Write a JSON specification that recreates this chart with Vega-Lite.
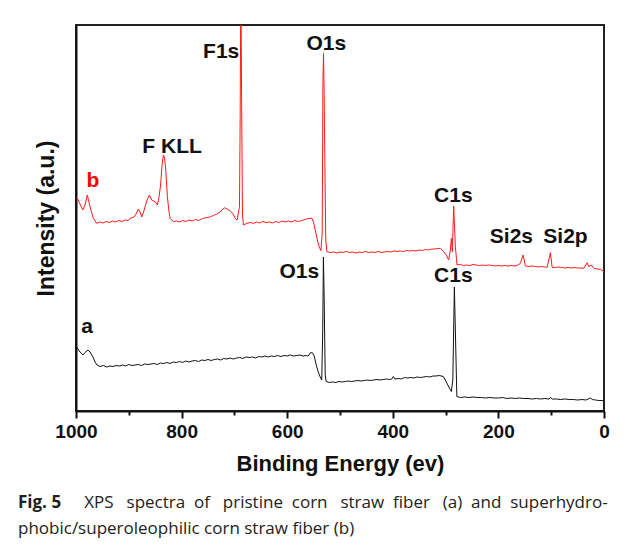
{
  "$schema": "https://vega.github.io/schema/vega-lite/v6.json",
  "width": 528,
  "height": 386,
  "autosize": {"type": "none"},
  "padding": {"left": 76, "top": 25, "right": 25, "bottom": 137},
  "background": "white",
  "config": {"view": {"stroke": "#222222", "strokeWidth": 2}, "font": "Liberation Sans"},
  "title": {
    "text": "Fig. 5",
    "subtitle": ["\u200b\u00a0\u00a0\u00a0\u00a0\u00a0\u00a0\u00a0\u00a0\u00a0\u00a0\u00a0\u00a0\u00a0\u00a0\u00a0XPS \u2002spectra \u00a0of \u2002pristine \u00a0corn \u2002straw \u00a0fiber \u2002(a) \u00a0and \u00a0superhydro-", "phobic/superoleophilic corn straw fiber (b)"],
    "orient": "bottom",
    "anchor": "start",
    "frame": "group",
    "dx": -58,
    "offset": 21,
    "font": "Open Sans",
    "fontSize": 17,
    "fontWeight": "bold",
    "color": "#222222",
    "subtitleFont": "Open Sans",
    "subtitleFontSize": 17,
    "subtitleFontWeight": "normal",
    "subtitleColor": "#222222",
    "subtitleLineHeight": 26,
    "subtitlePadding": -17
  },
  "datasets": {
    "spectra": [
      {"series":"a","be":1000,"intensity":64.3},{"series":"a","be":996.2,"intensity":62},{"series":"a","be":992.4,"intensity":59},{"series":"a","be":986.7,"intensity":56},{"series":"a","be":982.9,"intensity":58.5},{"series":"a","be":977.3,"intensity":61},{"series":"a","be":973.5,"intensity":59},{"series":"a","be":967.8,"intensity":54},{"series":"a","be":964,"intensity":49},{"series":"a","be":960.2,"intensity":46},{"series":"a","be":954.5,"intensity":44.5},{"series":"a","be":948,"intensity":45.5},{"series":"a","be":942,"intensity":44},{"series":"a","be":936,"intensity":45},{"series":"a","be":930,"intensity":44.5},{"series":"a","be":924,"intensity":45.5},{"series":"a","be":918,"intensity":45},{"series":"a","be":912,"intensity":46},{"series":"a","be":906,"intensity":45},{"series":"a","be":900,"intensity":46.5},{"series":"a","be":894,"intensity":45.5},{"series":"a","be":888,"intensity":46},{"series":"a","be":882,"intensity":46.5},{"series":"a","be":876,"intensity":45.5},{"series":"a","be":870,"intensity":47},{"series":"a","be":864,"intensity":46.5},{"series":"a","be":858,"intensity":47},{"series":"a","be":852,"intensity":47.5},{"series":"a","be":846,"intensity":46.5},{"series":"a","be":840,"intensity":48},{"series":"a","be":834,"intensity":47.5},{"series":"a","be":828,"intensity":48.5},{"series":"a","be":822,"intensity":47.5},{"series":"a","be":816,"intensity":49},{"series":"a","be":810,"intensity":48.5},{"series":"a","be":804,"intensity":49.5},{"series":"a","be":798,"intensity":48.5},{"series":"a","be":792,"intensity":50},{"series":"a","be":786,"intensity":49},{"series":"a","be":780,"intensity":50},{"series":"a","be":774,"intensity":50.5},{"series":"a","be":768,"intensity":49.5},{"series":"a","be":762,"intensity":51},{"series":"a","be":756,"intensity":50.5},{"series":"a","be":750,"intensity":51.5},{"series":"a","be":744,"intensity":50.5},{"series":"a","be":738,"intensity":51.5},{"series":"a","be":732,"intensity":52},{"series":"a","be":726,"intensity":51},{"series":"a","be":720,"intensity":52.5},{"series":"a","be":714,"intensity":52},{"series":"a","be":708,"intensity":53},{"series":"a","be":702,"intensity":52},{"series":"a","be":696,"intensity":53},{"series":"a","be":690,"intensity":53.5},{"series":"a","be":684,"intensity":52.5},{"series":"a","be":678,"intensity":54},{"series":"a","be":672,"intensity":53.5},{"series":"a","be":666,"intensity":54},{"series":"a","be":660,"intensity":53},{"series":"a","be":654,"intensity":54.5},{"series":"a","be":648,"intensity":54},{"series":"a","be":642,"intensity":55},{"series":"a","be":636,"intensity":54},{"series":"a","be":630,"intensity":55},{"series":"a","be":624,"intensity":54.5},{"series":"a","be":618,"intensity":55.5},{"series":"a","be":612,"intensity":54.5},{"series":"a","be":606,"intensity":55.5},{"series":"a","be":600,"intensity":55},{"series":"a","be":594,"intensity":56},{"series":"a","be":588,"intensity":55},{"series":"a","be":582,"intensity":55.5},{"series":"a","be":576,"intensity":56},{"series":"a","be":570,"intensity":55},{"series":"a","be":564,"intensity":55.5},{"series":"a","be":560,"intensity":55},{"series":"a","be":556.4,"intensity":58},{"series":"a","be":552.6,"intensity":58.5},{"series":"a","be":548.8,"intensity":55},{"series":"a","be":545,"intensity":46},{"series":"a","be":541.2,"intensity":39},{"series":"a","be":537.5,"intensity":34},{"series":"a","be":534.6,"intensity":31},{"series":"a","be":532.7,"intensity":80},{"series":"a","be":531.4,"intensity":154},{"series":"a","be":529.9,"intensity":110},{"series":"a","be":528,"intensity":36},{"series":"a","be":526.1,"intensity":29.5},{"series":"a","be":520,"intensity":28.5},{"series":"a","be":514,"intensity":29},{"series":"a","be":508,"intensity":28.5},{"series":"a","be":502,"intensity":29.5},{"series":"a","be":496,"intensity":29},{"series":"a","be":490,"intensity":29.5},{"series":"a","be":484,"intensity":30},{"series":"a","be":478,"intensity":29.5},{"series":"a","be":472,"intensity":30},{"series":"a","be":466,"intensity":30.5},{"series":"a","be":460,"intensity":30},{"series":"a","be":454,"intensity":30.5},{"series":"a","be":448,"intensity":31},{"series":"a","be":442,"intensity":30.5},{"series":"a","be":436,"intensity":31},{"series":"a","be":430,"intensity":31.5},{"series":"a","be":424,"intensity":31},{"series":"a","be":418,"intensity":31.5},{"series":"a","be":412,"intensity":32},{"series":"a","be":406,"intensity":31.5},{"series":"a","be":402,"intensity":32},{"series":"a","be":399,"intensity":34.5},{"series":"a","be":396,"intensity":32},{"series":"a","be":390,"intensity":32.5},{"series":"a","be":384,"intensity":32},{"series":"a","be":378,"intensity":33.5},{"series":"a","be":372,"intensity":33},{"series":"a","be":366,"intensity":33.5},{"series":"a","be":360,"intensity":33},{"series":"a","be":354,"intensity":34},{"series":"a","be":348,"intensity":33.5},{"series":"a","be":342,"intensity":34},{"series":"a","be":336,"intensity":34.5},{"series":"a","be":330,"intensity":34},{"series":"a","be":324,"intensity":35},{"series":"a","be":318,"intensity":35},{"series":"a","be":312,"intensity":35.5},{"series":"a","be":304.3,"intensity":34.5},{"series":"a","be":298.6,"intensity":29},{"series":"a","be":292.9,"intensity":23},{"series":"a","be":289.1,"intensity":19.5},{"series":"a","be":286.3,"intensity":31},{"series":"a","be":283.4,"intensity":124},{"series":"a","be":281.5,"intensity":80},{"series":"a","be":278.7,"intensity":14.5},{"series":"a","be":272,"intensity":13.5},{"series":"a","be":264,"intensity":14},{"series":"a","be":256,"intensity":13.5},{"series":"a","be":248,"intensity":14},{"series":"a","be":240,"intensity":13.5},{"series":"a","be":232,"intensity":13.5},{"series":"a","be":224,"intensity":13},{"series":"a","be":216,"intensity":13.5},{"series":"a","be":208,"intensity":13},{"series":"a","be":200,"intensity":13},{"series":"a","be":192,"intensity":13.5},{"series":"a","be":184,"intensity":12.5},{"series":"a","be":176,"intensity":13},{"series":"a","be":168,"intensity":12.5},{"series":"a","be":160,"intensity":13},{"series":"a","be":152,"intensity":12.5},{"series":"a","be":144,"intensity":12.5},{"series":"a","be":136,"intensity":12},{"series":"a","be":128,"intensity":12.5},{"series":"a","be":120,"intensity":12},{"series":"a","be":112,"intensity":12.5},{"series":"a","be":104,"intensity":12},{"series":"a","be":101,"intensity":13.5},{"series":"a","be":98,"intensity":12},{"series":"a","be":90,"intensity":12},{"series":"a","be":82,"intensity":11.5},{"series":"a","be":74,"intensity":12},{"series":"a","be":66,"intensity":11.5},{"series":"a","be":58,"intensity":11.5},{"series":"a","be":50,"intensity":11},{"series":"a","be":42,"intensity":11.5},{"series":"a","be":34,"intensity":11},{"series":"a","be":28,"intensity":12.5},{"series":"a","be":25.6,"intensity":13},{"series":"a","be":22,"intensity":11.5},{"series":"a","be":16,"intensity":11},{"series":"a","be":10,"intensity":10.5},{"series":"a","be":4,"intensity":10.5},{"series":"a","be":0,"intensity":10.3},
      {"series":"b","be":1000,"intensity":213.7},{"series":"b","be":995.6,"intensity":211},{"series":"b","be":991.5,"intensity":206},{"series":"b","be":987.3,"intensity":201},{"series":"b","be":982.9,"intensity":206},{"series":"b","be":978.6,"intensity":216},{"series":"b","be":973.5,"intensity":204.3},{"series":"b","be":967.2,"intensity":192.7},{"series":"b","be":960.8,"intensity":187.7},{"series":"b","be":955,"intensity":189},{"series":"b","be":949,"intensity":188},{"series":"b","be":943,"intensity":189.5},{"series":"b","be":937,"intensity":188.5},{"series":"b","be":931,"intensity":190},{"series":"b","be":925,"intensity":189},{"series":"b","be":919,"intensity":190.5},{"series":"b","be":913,"intensity":189.5},{"series":"b","be":907,"intensity":191},{"series":"b","be":901,"intensity":190.5},{"series":"b","be":897.6,"intensity":192.7},{"series":"b","be":890,"intensity":194},{"series":"b","be":886.3,"intensity":197},{"series":"b","be":881.9,"intensity":202},{"series":"b","be":878.7,"intensity":199},{"series":"b","be":875.5,"intensity":194},{"series":"b","be":872,"intensity":199},{"series":"b","be":869.2,"intensity":204.3},{"series":"b","be":865.4,"intensity":211},{"series":"b","be":861,"intensity":216},{"series":"b","be":856.5,"intensity":211},{"series":"b","be":850.2,"intensity":209.3},{"series":"b","be":845.9,"intensity":206},{"series":"b","be":842.7,"intensity":214},{"series":"b","be":839.8,"intensity":226},{"series":"b","be":837,"intensity":246},{"series":"b","be":834.5,"intensity":256},{"series":"b","be":832.2,"intensity":253},{"series":"b","be":830,"intensity":241},{"series":"b","be":826.9,"intensity":214.3},{"series":"b","be":824.3,"intensity":201},{"series":"b","be":821.8,"intensity":192.7},{"series":"b","be":815.6,"intensity":189.3},{"series":"b","be":810,"intensity":190},{"series":"b","be":804,"intensity":189},{"series":"b","be":798,"intensity":190.5},{"series":"b","be":792,"intensity":189.5},{"series":"b","be":786,"intensity":191},{"series":"b","be":780,"intensity":190},{"series":"b","be":774,"intensity":191.5},{"series":"b","be":768,"intensity":190.5},{"series":"b","be":762,"intensity":192},{"series":"b","be":758.7,"intensity":192.7},{"series":"b","be":752,"intensity":193.5},{"series":"b","be":746,"intensity":194},{"series":"b","be":740,"intensity":195.5},{"series":"b","be":733.3,"intensity":197},{"series":"b","be":727,"intensity":199},{"series":"b","be":719.4,"intensity":203.3},{"series":"b","be":713.8,"intensity":202},{"series":"b","be":708.1,"intensity":200.3},{"series":"b","be":702.4,"intensity":197},{"series":"b","be":698.6,"intensity":192.7},{"series":"b","be":694.8,"intensity":191},{"series":"b","be":690.4,"intensity":204.3},{"series":"b","be":689.1,"intensity":291},{"series":"b","be":687.8,"intensity":431},{"series":"b","be":686.3,"intensity":311},{"series":"b","be":684.7,"intensity":196},{"series":"b","be":682.8,"intensity":186},{"series":"b","be":676.4,"intensity":187.7},{"series":"b","be":670,"intensity":188.5},{"series":"b","be":664,"intensity":187.5},{"series":"b","be":658,"intensity":189},{"series":"b","be":652,"intensity":188},{"series":"b","be":646,"intensity":189.5},{"series":"b","be":640,"intensity":188.5},{"series":"b","be":634,"intensity":189},{"series":"b","be":628,"intensity":188},{"series":"b","be":622,"intensity":189.5},{"series":"b","be":616,"intensity":188.5},{"series":"b","be":610,"intensity":190},{"series":"b","be":604,"intensity":189},{"series":"b","be":598,"intensity":190},{"series":"b","be":592,"intensity":189},{"series":"b","be":586,"intensity":190.5},{"series":"b","be":580,"intensity":189.5},{"series":"b","be":575.4,"intensity":190},{"series":"b","be":570,"intensity":191},{"series":"b","be":565.9,"intensity":191.5},{"series":"b","be":560.2,"intensity":192.5},{"series":"b","be":553.2,"intensity":192.7},{"series":"b","be":550.2,"intensity":189},{"series":"b","be":547,"intensity":181},{"series":"b","be":543.7,"intensity":173},{"series":"b","be":540.7,"intensity":166},{"series":"b","be":536.2,"intensity":160.3},{"series":"b","be":533.7,"intensity":178},{"series":"b","be":532.4,"intensity":326},{"series":"b","be":531.2,"intensity":357.7},{"series":"b","be":530.3,"intensity":326},{"series":"b","be":528.9,"intensity":261},{"series":"b","be":527,"intensity":171},{"series":"b","be":524.8,"intensity":159.3},{"series":"b","be":518,"intensity":158.5},{"series":"b","be":512,"intensity":159},{"series":"b","be":506,"intensity":158},{"series":"b","be":500,"intensity":159},{"series":"b","be":494,"intensity":158.5},{"series":"b","be":488,"intensity":159.5},{"series":"b","be":482,"intensity":158.5},{"series":"b","be":476,"intensity":159},{"series":"b","be":470,"intensity":158},{"series":"b","be":464,"intensity":159},{"series":"b","be":458,"intensity":158.5},{"series":"b","be":452,"intensity":159.5},{"series":"b","be":446,"intensity":158.5},{"series":"b","be":440,"intensity":159},{"series":"b","be":434,"intensity":158.5},{"series":"b","be":428,"intensity":159.5},{"series":"b","be":422,"intensity":158.5},{"series":"b","be":416,"intensity":159},{"series":"b","be":410,"intensity":159.5},{"series":"b","be":404,"intensity":159},{"series":"b","be":398,"intensity":160},{"series":"b","be":392,"intensity":159.5},{"series":"b","be":386,"intensity":160},{"series":"b","be":380,"intensity":159.5},{"series":"b","be":374,"intensity":160.5},{"series":"b","be":368,"intensity":160},{"series":"b","be":362,"intensity":160.5},{"series":"b","be":356,"intensity":160},{"series":"b","be":350,"intensity":161},{"series":"b","be":344,"intensity":160.5},{"series":"b","be":338,"intensity":161.5},{"series":"b","be":332,"intensity":161},{"series":"b","be":326,"intensity":162},{"series":"b","be":320,"intensity":162},{"series":"b","be":314,"intensity":162.5},{"series":"b","be":310,"intensity":162.7},{"series":"b","be":303.7,"intensity":159.3},{"series":"b","be":298.6,"intensity":156},{"series":"b","be":294.2,"intensity":151},{"series":"b","be":291,"intensity":161},{"series":"b","be":289.1,"intensity":172.7},{"series":"b","be":287.2,"intensity":159.3},{"series":"b","be":284.7,"intensity":205},{"series":"b","be":281.5,"intensity":164.3},{"series":"b","be":278.3,"intensity":146},{"series":"b","be":272,"intensity":146.5},{"series":"b","be":266,"intensity":145.5},{"series":"b","be":260,"intensity":146},{"series":"b","be":254,"intensity":145.5},{"series":"b","be":248,"intensity":146.5},{"series":"b","be":242,"intensity":146},{"series":"b","be":236,"intensity":145.5},{"series":"b","be":230,"intensity":146},{"series":"b","be":224,"intensity":145.5},{"series":"b","be":218,"intensity":146},{"series":"b","be":212,"intensity":145.5},{"series":"b","be":206,"intensity":145},{"series":"b","be":200,"intensity":145.5},{"series":"b","be":194,"intensity":145},{"series":"b","be":188,"intensity":145.5},{"series":"b","be":182,"intensity":145},{"series":"b","be":176,"intensity":145.5},{"series":"b","be":170,"intensity":145},{"series":"b","be":164.6,"intensity":145.5},{"series":"b","be":158.3,"intensity":147.7},{"series":"b","be":153.2,"intensity":156},{"series":"b","be":148.8,"intensity":145},{"series":"b","be":142,"intensity":144.5},{"series":"b","be":136,"intensity":145},{"series":"b","be":130,"intensity":144.5},{"series":"b","be":124,"intensity":144},{"series":"b","be":118,"intensity":144.5},{"series":"b","be":112,"intensity":144},{"series":"b","be":107.7,"intensity":143.7},{"series":"b","be":101.5,"intensity":158.3},{"series":"b","be":98.2,"intensity":143.7},{"series":"b","be":92,"intensity":143.5},{"series":"b","be":86,"intensity":144},{"series":"b","be":80,"intensity":143.5},{"series":"b","be":74,"intensity":143},{"series":"b","be":68,"intensity":143.5},{"series":"b","be":62,"intensity":143},{"series":"b","be":56,"intensity":143.5},{"series":"b","be":50,"intensity":143},{"series":"b","be":44,"intensity":143},{"series":"b","be":38.3,"intensity":142.7},{"series":"b","be":31.8,"intensity":148.3},{"series":"b","be":28.8,"intensity":144.3},{"series":"b","be":24.3,"intensity":146},{"series":"b","be":19.3,"intensity":142.7},{"series":"b","be":13,"intensity":142},{"series":"b","be":6.6,"intensity":141.7},{"series":"b","be":0,"intensity":139.3}
    ],
    "labels": [
      {"label":"F1s","be":725,"intensity":353},
      {"label":"O1s","be":526,"intensity":361},
      {"label":"F KLL","be":818,"intensity":258},
      {"label":"b","be":968,"intensity":224},
      {"label":"C1s","be":285.3,"intensity":209},
      {"label":"Si2s","be":175.4,"intensity":168},
      {"label":"Si2p","be":73,"intensity":168},
      {"label":"O1s","be":577,"intensity":133},
      {"label":"C1s","be":285.3,"intensity":129},
      {"label":"a","be":979,"intensity":78}
    ]
  },
  "layer": [
    {
      "data": {"name": "spectra"},
      "mark": {"type": "line", "strokeWidth": 1, "clip": true},
      "encoding": {
        "x": {
          "field": "be", "type": "quantitative",
          "scale": {"domain": [0, 1000], "reverse": true, "nice": false},
          "axis": {
            "title": "Binding Energy (ev)",
            "values": [1000, 900, 800, 700, 600, 500, 400, 300, 200, 100, 0],
            "format": "d",
            "labelExpr": "datum.value % 200 === 0 ? datum.label : ''",
            "tickSize": {"condition": {"test": "datum.value % 200 === 0", "value": 7}, "value": 4},
            "tickColor": "#111111", "tickWidth": 2,
            "domainColor": "#111111", "domainWidth": 2,
            "labelFont": "Liberation Sans", "labelFontWeight": "bold", "labelFontSize": 19, "labelColor": "#111111",
            "labelPadding": 4, "labelOverlap": false, "labelFlush": false,
            "titleFont": "Liberation Sans", "titleFontWeight": "bold", "titleFontSize": 22, "titleColor": "#111111",
            "titlePadding": 12,
            "grid": false
          }
        },
        "y": {
          "field": "intensity", "type": "quantitative",
          "scale": {"domain": [0, 386], "nice": false, "zero": false},
          "axis": {
            "title": "Intensity (a.u.)",
            "labels": false, "ticks": false, "grid": false,
            "domainColor": "#111111", "domainWidth": 2,
            "titleFont": "Liberation Sans", "titleFontWeight": "bold", "titleFontSize": 23, "titleColor": "#111111",
            "titlePadding": 18
          }
        },
        "color": {
          "field": "series", "type": "nominal",
          "scale": {"domain": ["a", "b"], "range": ["#111111", "#ff1a1a"]},
          "legend": null
        }
      }
    },
    {
      "data": {"name": "labels"},
      "mark": {"type": "text", "font": "Liberation Sans", "fontWeight": "bold", "fontSize": 21, "align": "center", "baseline": "alphabetic"},
      "encoding": {
        "x": {"field": "be", "type": "quantitative"},
        "y": {"field": "intensity", "type": "quantitative"},
        "text": {"field": "label"},
        "color": {"condition": {"test": "datum.label === 'b'", "value": "#ff0000"}, "value": "#111111"}
      }
    }
  ]
}
